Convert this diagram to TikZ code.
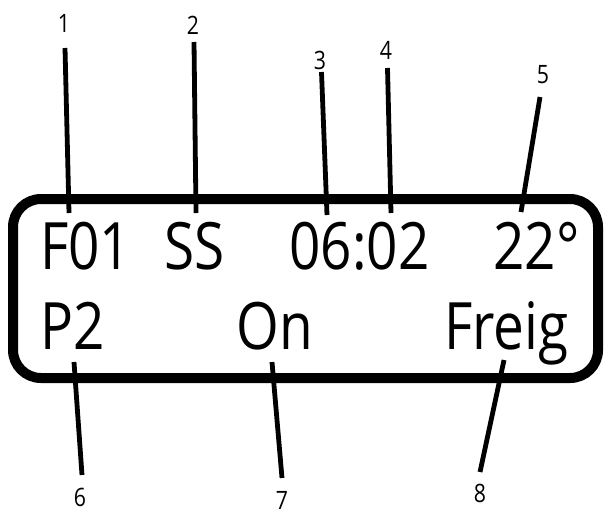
\documentclass[tikz,border=0pt]{standalone}
\usepackage{fontspec}
\setmainfont{Open Sans}
\usepackage{graphicx}

\newcommand\lcdtext[1]{\scalebox{0.84}[1]{#1}}

\begin{document}
\begin{tikzpicture}[x=0.75pt,y=-0.75pt,
every node/.style={inner sep=0pt},
lcd/.style={anchor=base west, font=\fontsize{49}{52}\selectfont},
num/.style={font=\fontsize{19}{22}\selectfont},
leader/.style={line width=3.6pt}
]
\useasboundingbox (0,0) rectangle (609,515);

% display frame
\draw[line width=7.5pt, rounded corners=21pt] (13,199) rectangle (598,378);

% first row
\node[lcd] (f01)  at (40,269)  {\lcdtext{F01}};
\node[lcd] (ss)   at (164,269) {\lcdtext{SS}};
\node[lcd] (time) at (289,269) {\lcdtext{06:02}};
\node[lcd] (temp) at (493,269) {\lcdtext{22°}};
% second row
\node[lcd] (p2)   at (40,349)  {\lcdtext{P2}};
\node[lcd] (on)   at (236,349) {\lcdtext{On}};
\node[lcd] (frg)  at (444,349) {\lcdtext{Freig}};

% numbered leaders
\foreach \k/\nx/\ny/\xa/\ya/\xb/\yb in {1/64/23/65/48/69/213, 2/193/25/194/42/196/213,%
                   3/320/60/321.5/72/327/215, 4/386/50/387.5/68/391/213,%
                   5/543/75/540/97/521/212, 6/80/497/74/362/82/475,%
                   7/282/500/272/362/282/478, 8/480/493/504/360/480/472%
            }
{
    \node[num] (n\k) at (\nx,\ny) {\lcdtext{\k}};
    \coordinate (a\k) at (\xa,\ya);
    \coordinate (b\k) at (\xb,\yb);
    \draw[leader] (a\k) -- (b\k);
}
\end{tikzpicture}
\end{document}
